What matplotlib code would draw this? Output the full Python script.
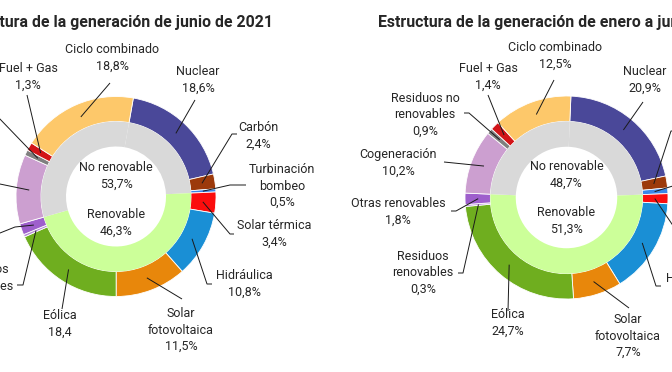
import matplotlib
matplotlib.use("Agg")
import matplotlib.pyplot as plt
import numpy as np

# ============ datos ============
fuentes = ["Nuclear", "Carbón", "Turbinación bombeo", "Solar térmica", "Hidráulica",
           "Solar fotovoltaica", "Eólica", "Residuos renovables", "Otras renovables",
           "Cogeneración", "Residuos no renovables", "Fuel + Gas", "Ciclo combinado"]
es_renovable = [False, False, False, True, True, True, True, True, True,
                False, False, False, False]

junio = [18.6, 2.4, 0.5, 3.4, 10.8, 11.5, 18.4, 0.4, 1.8, 11.2, 0.9, 1.3, 18.8]
enero_junio = [20.9, 1.9, 0.9, 1.6, 15.2, 7.7, 24.7, 0.3, 1.8, 10.2, 0.9, 1.4, 12.5]

# no renovable, renovable
totales_junio = [53.7, 46.3]
totales_enero_junio = [48.7, 51.3]

etiquetas_junio = ["Nuclear\n18,6%", "Carbón\n2,4%", "Turbinación\nbombeo\n0,5%",
                   "Solar térmica\n3,4%", "Hidráulica\n10,8%", "Solar\nfotovoltaica\n11,5%",
                   "Eólica\n18,4", "Residuos\nrenovables\n0,4%", "Otras renovables\n1,8%",
                   "Cogeneración\n11,2%", "Residuos no\nrenovables\n0,9%",
                   "Fuel + Gas\n1,3%", "Ciclo combinado\n18,8%"]
etiquetas_enero_junio = ["Nuclear\n20,9%", "Carbón\n1,9%", "Turbinación\nbombeo\n0,9%",
                         "Solar térmica\n1,6%", "Hidráulica\n15,2%", "Solar\nfotovoltaica\n7,7%",
                         "Eólica\n24,7%", "Residuos\nrenovables\n0,3%", "Otras renovables\n1,8%",
                         "Cogeneración\n10,2%", "Residuos no\nrenovables\n0,9%",
                         "Fuel + Gas\n1,4%", "Ciclo combinado\n12,5%"]
etiquetas_centro_junio = ["No renovable\n53,7%", "Renovable\n46,3%"]
etiquetas_centro_enero_junio = ["No renovable\n48,7%", "Renovable\n51,3%"]

titulo_junio = "Estructura de la generación de junio de 2021"
titulo_enero_junio = "Estructura de la generación de enero a junio de 2021"

# ============ estilo ============
colores = ["#4a4899", "#9c3a0b", "#3a86e8", "#fb0d0d", "#1a8fd5", "#e8870b", "#6fae1f",
           "#b48ad8", "#9e5fcc", "#cc9fd0", "#7f7f7f", "#d21418", "#fdc86a"]
gris_centro = "#d9d9d9"
verde_centro = "#ccff99"
color_texto = "#262626"

plt.rcParams["font.family"] = ["Roboto", "DejaVu Sans"]

W, H = 672, 372

# posiciones en pixeles (y hacia abajo)
layout_junio = dict(
    centro=(116, 196.5), radio=100, inicio=80,
    titulo=(273, 27, "right"),
    textos=[(198, 80), (258, 136), (282, 186), (274, 234), (244, 284), (181, 330),
            (60, 324), (-17, 286), (-50, 222), (-45, 185), (-40, 115), (28, 77), (112, 58)],
    codos=[[(195, 100)], [(232, 134), (237, 134)], [(230, 185), (246, 185)],
           [(230, 234), (234, 234)], [(207, 284), (212, 284)], [(182, 299)],
           [(62, 309)], [(23, 285), (17, 285)], [(15, 227), (-5, 235)], [(-5, 183)],
           [(-2, 117), (-8, 117)], [(27, 95)], [(110, 83)]],
    centro_textos=[(116, 176), (116, 223)],
)
layout_enero_junio = dict(
    centro=(566.5, 197.5), radio=101.5, inicio=87.5,
    titulo=(378, 27, "left"),
    textos=[(645, 80), (705, 140), (720, 190), (720, 240), (694, 287), (628, 336),
            (508, 323), (423, 273), (398, 212), (398, 163), (425, 115), (488, 77), (555, 56)],
    codos=[[(643, 102)], [(671, 131), (678, 131)], [(676, 185), (690, 185)],
           [(680, 236), (686, 236)], [(656, 286), (661, 286)], [(629, 308)],
           [(508, 311)], [(463, 273), (458, 273)], [(456, 211), (451, 211)], [(444, 162)],
           [(469, 113), (464, 113)], [(488, 95)], [(554, 80)]],
    centro_textos=[(566.5, 175), (566.5, 221)],
)


def dona(ax, valores, totales, etiquetas, etiquetas_centro, titulo, lay):
    cx, cy = lay["centro"][0], H - lay["centro"][1]
    r = lay["radio"]

    cunas, _ = ax.pie(valores, colors=colores, radius=r, center=(cx, cy),
                      startangle=lay["inicio"], counterclock=False,
                      wedgeprops=dict(width=0.25 * r, edgecolor="white", linewidth=0.6))

    # anillo interior alineado con el bloque renovable del anillo exterior
    n_previo = es_renovable.index(True)
    previo = sum(valores[:n_previo])
    interior = [previo, totales[1], totales[0] - previo]
    ax.pie(interior, colors=[gris_centro, verde_centro, gris_centro], radius=0.75 * r,
           center=(cx, cy), startangle=lay["inicio"], counterclock=False,
           wedgeprops=dict(width=0.25 * r, linewidth=0))

    for cuna, txt, (tx, ty), codo in zip(cunas, etiquetas, lay["textos"], lay["codos"]):
        ang = np.deg2rad(0.5 * (cuna.theta1 + cuna.theta2))
        xs = [cx + 0.87 * r * np.cos(ang)] + [p[0] for p in codo]
        ys = [cy + 0.87 * r * np.sin(ang)] + [H - p[1] for p in codo]
        ax.plot(xs, ys, color="#1a1a1a", lw=0.7, solid_capstyle="butt")
        ax.text(tx, H - ty, txt, ha="center", va="center", ma="center",
                fontsize=9, color=color_texto, linespacing=1.35)

    for txt, (tx, ty) in zip(etiquetas_centro, lay["centro_textos"]):
        ax.text(tx, H - ty, txt, ha="center", va="center", ma="center",
                fontsize=9, color=color_texto, linespacing=1.35)

    x, y, ha = lay["titulo"]
    ax.text(x, H - y, titulo, ha=ha, va="baseline", fontsize=11.4, fontweight="semibold",
            color=color_texto)


fig = plt.figure(figsize=(W / 100, H / 100), dpi=100)
fig.patch.set_facecolor("white")
ax = fig.add_axes([0, 0, 1, 1])

dona(ax, junio, totales_junio, etiquetas_junio, etiquetas_centro_junio,
     titulo_junio, layout_junio)
dona(ax, enero_junio, totales_enero_junio, etiquetas_enero_junio,
     etiquetas_centro_enero_junio, titulo_enero_junio, layout_enero_junio)

ax.set_xlim(0, W)
ax.set_ylim(0, H)
ax.set_aspect("equal")
ax.axis("off")

plt.savefig("out.png", dpi=100, facecolor="white")
plt.close()
